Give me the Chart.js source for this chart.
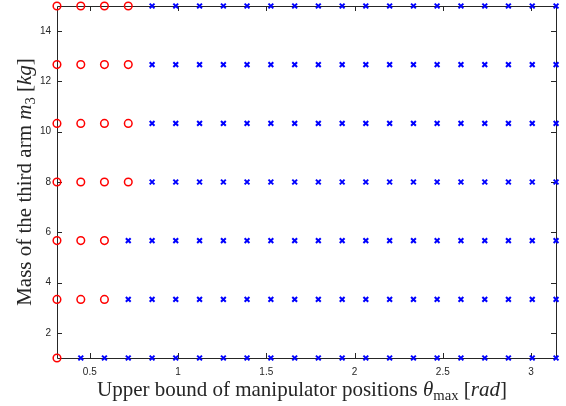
<!DOCTYPE html>
<html>
<head>
<meta charset="utf-8">
<script src="https://cdn.jsdelivr.net/npm/chart.js@4.4.1/dist/chart.umd.min.js"></script>
<style>
  html, body { margin: 0; padding: 0; background: #fff; }
</style>
</head>
<body>
<canvas id="chart" width="566" height="406"></canvas>
<script>
// Upper bound of the manipulator positions (rad), one grid column each
let thetaMax = [0.314, 0.449, 0.583, 0.718, 0.853, 0.987, 1.122, 1.257, 1.391, 1.526, 1.661,
                1.795, 1.930, 2.064, 2.199, 2.334, 2.468, 2.603, 2.738, 2.872, 3.007, 3.142];
// Mass of the third arm (kg), one grid row each
let massM3 = [1, 3.33, 5.67, 8, 10.33, 12.67, 15];
// Number of leading columns drawn as red circles in each mass row (the rest are blue crosses)
let circleCount = [1, 3, 3, 4, 4, 4, 4];
// Tick labels
let xTicks = [0.5, 1, 1.5, 2, 2.5, 3];
let yTicks = [2, 4, 6, 8, 10, 12, 14];

let axisColor = "#262626";

// Splitting the grid into the two marker groups
let circlePoints = [];
let crossPoints = [];
for (let i = 0; i < massM3.length; i++)
{
    for (let j = 0; j < thetaMax.length; j++)
    {
        let point = { x: thetaMax[j], y: massM3[i] };
        if (j < circleCount[i]) circlePoints.push(point);
        else crossPoints.push(point);
    }
}

// Draws a label made of pieces in different styles (roman, italic, subscript), starting at (0,0) on the baseline
function richText(ctx, parts, size, draw)
{
    let x = 0;
    for (let part of parts)
    {
        let fs = part.sub ? size * 0.7 : size;
        ctx.font = `${part.italic ? "italic " : ""}${fs}px "Liberation Serif"`;
        if (draw) ctx.fillText(part.t, x, part.sub ? size * 0.2 : 0);
        x += ctx.measureText(part.t).width;
    }
    return x;
}

let xTitle = [
    { t: "Upper bound of manipulator positions " },
    { t: "θ", italic: true },
    { t: "max", sub: true },
    { t: " [" },
    { t: "rad", italic: true },
    { t: "]" }
];
let yTitle = [
    { t: "Mass of the third arm " },
    { t: "m", italic: true },
    { t: "3", sub: true },
    { t: " [" },
    { t: "kg", italic: true },
    { t: "]" }
];

// Box round the plot with small inward ticks on all four sides (MATLAB style)
let axisBox = {
    id: "axisBox",
    beforeDatasetsDraw(chart)
    {
        let { ctx, chartArea: a, scales } = chart;
        ctx.save();
        ctx.strokeStyle = axisColor;
        ctx.lineWidth = 1;
        ctx.beginPath();
        ctx.rect(a.left + 0.5, a.top + 0.5, a.right - a.left, a.bottom - a.top);
        for (let v of xTicks)
        {
            let px = Math.round(scales.x.getPixelForValue(v)) + 0.5;
            ctx.moveTo(px, a.bottom); ctx.lineTo(px, a.bottom - 5);
            ctx.moveTo(px, a.top); ctx.lineTo(px, a.top + 5);
        }
        for (let v of yTicks)
        {
            let py = Math.round(scales.y.getPixelForValue(v)) + 0.5;
            ctx.moveTo(a.left, py); ctx.lineTo(a.left + 5, py);
            ctx.moveTo(a.right, py); ctx.lineTo(a.right - 5, py);
        }
        ctx.stroke();
        ctx.restore();
    },
    afterDraw(chart)
    {
        let ctx = chart.ctx;
        let size = 21;
        ctx.save();
        ctx.fillStyle = axisColor;
        ctx.textBaseline = "alphabetic";
        ctx.textAlign = "left";
        // x title centred under the plot
        let w = richText(ctx, xTitle, size, false);
        ctx.save();
        ctx.translate(302 - w / 2, 396);
        richText(ctx, xTitle, size, true);
        ctx.restore();
        // y title rotated along the left side
        w = richText(ctx, yTitle, size, false);
        ctx.save();
        ctx.translate(31, 182 + w / 2);
        ctx.rotate(-Math.PI / 2);
        richText(ctx, yTitle, size, true);
        ctx.restore();
        ctx.restore();
    }
};

let tickFont = { family: "'Liberation Sans', Arial, sans-serif", size: 10 };

new Chart(document.getElementById("chart"),
{
    type: "scatter",
    data:
    {
        datasets: [
            {
                data: circlePoints,
                pointStyle: "circle",
                pointRadius: 3.8,
                pointBorderWidth: 1.5,
                pointBorderColor: "#ff0000",
                pointBackgroundColor: "rgba(0,0,0,0)",
                clip: false
            },
            {
                data: crossPoints,
                pointStyle: "crossRot",
                pointRadius: 3.4,
                pointBorderWidth: 2,
                pointBorderColor: "#0000ff",
                pointBackgroundColor: "#0000ff",
                clip: false
            }
        ]
    },
    options:
    {
        responsive: false,
        animation: false,
        devicePixelRatio: 1,
        layout: { padding: { top: 5, right: 10, left: 0, bottom: 0 } },
        plugins:
        {
            legend: { display: false },
            tooltip: { enabled: false }
        },
        scales:
        {
            x:
            {
                type: "linear",
                min: 0.3142,
                max: 3.1416,
                grid: { display: false, drawTicks: false },
                border: { display: false },
                ticks: { font: tickFont, color: axisColor, padding: 8, maxRotation: 0, autoSkip: false, callback: (v) => String(v) },
                afterBuildTicks: (scale) => { scale.ticks = xTicks.map(v => ({ value: v })); },
                afterFit: (scale) => { scale.height = 48; scale.paddingLeft = 0; scale.paddingRight = 0; }
            },
            y:
            {
                type: "linear",
                min: 1,
                max: 15,
                grid: { display: false, drawTicks: false },
                border: { display: false },
                ticks: { font: tickFont, color: axisColor, padding: 6, autoSkip: false, callback: (v) => String(v) },
                afterBuildTicks: (scale) => { scale.ticks = yTicks.map(v => ({ value: v })); },
                afterFit: (scale) => { scale.width = 57; scale.paddingTop = 0; scale.paddingBottom = 0; }
            }
        }
    },
    plugins: [axisBox]
});
</script>
</body>
</html>
